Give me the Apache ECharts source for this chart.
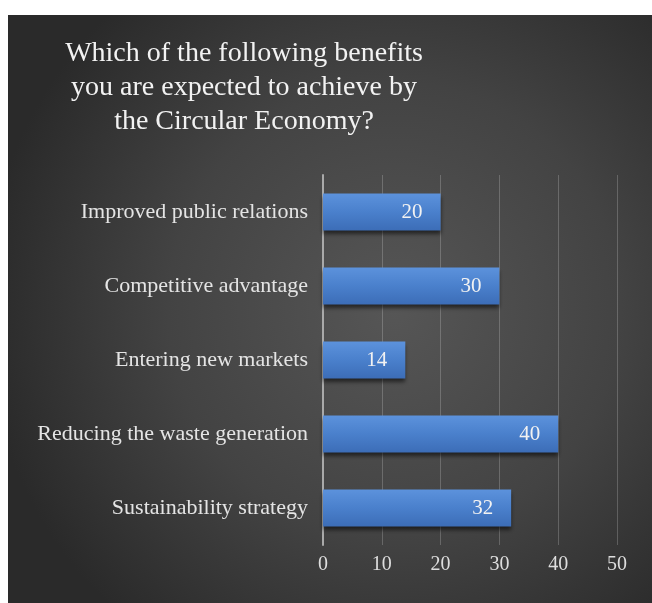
<!DOCTYPE html>
<html>
<head>
<meta charset="utf-8">
<script src="https://cdn.jsdelivr.net/npm/echarts@6/dist/echarts.min.js"></script>
<style>
  html, body { margin: 0; padding: 0; background: #ffffff; }
  #chart { width: 652px; height: 603px; }
</style>
</head>
<body>
<div id="chart"></div>
<script>
// Survey answers: expected benefits of the Circular Economy
const titleLines = [
  'Which of the following benefits',
  'you are expected to achieve by',
  'the Circular Economy?'
];
const categories = [
  'Improved public relations',
  'Competitive advantage',
  'Entering new markets',
  'Reducing the waste generation',
  'Sustainability strategy'
];
const responses = [20, 30, 14, 40, 32];
const xTicks = [0, 10, 20, 30, 40, 50];

const serif = 'Liberation Serif';

const chart = echarts.init(document.getElementById('chart'));

chart.setOption({
  backgroundColor: '#ffffff',
  animation: false,
  graphic: [
    {
      type: 'rect',
      z: -10,
      silent: true,
      shape: { x: 8, y: 15, width: 644, height: 588 },
      style: {
        fill: new echarts.graphic.RadialGradient(0.6, 0.5, 0.7, [
          { offset: 0, color: '#565656' },
          { offset: 0.55, color: '#434343' },
          { offset: 1, color: '#2a2a2a' }
        ])
      }
    },
    {
      type: 'text',
      z: 10,
      silent: true,
      x: 244,
      y: 37,
      style: {
        text: titleLines.join('\n'),
        fill: '#f2f2f2',
        font: 'normal 28px Liberation Serif',
        fontFamily: serif,
        fontSize: 28,
        lineHeight: 34,
        align: 'center',
        verticalAlign: 'top'
      }
    }
  ],
  grid: { left: 323, right: 35, top: 175, bottom: 58, containLabel: false },
  xAxis: {
    type: 'value',
    min: xTicks[0],
    max: xTicks[xTicks.length - 1],
    interval: xTicks[1] - xTicks[0],
    axisLine: { show: false },
    axisTick: { show: false },
    splitLine: { show: true, lineStyle: { color: 'rgba(255,255,255,0.2)', width: 1 } },
    axisLabel: {
      color: '#dedede',
      fontFamily: serif,
      fontSize: 20,
      margin: 10
    }
  },
  yAxis: {
    type: 'category',
    data: categories,
    inverse: true,
    axisLine: { show: true, lineStyle: { color: '#a9a9a9', width: 2 } },
    axisTick: { show: false },
    splitLine: { show: false },
    axisLabel: {
      color: '#e4e4e4',
      fontFamily: serif,
      fontSize: 22,
      margin: 15
    }
  },
  series: [{
    type: 'bar',
    data: responses,
    barWidth: 37,
    itemStyle: {
      color: new echarts.graphic.LinearGradient(0, 0, 0, 1, [
        { offset: 0, color: '#5c92dc' },
        { offset: 0.5, color: '#4a80cc' },
        { offset: 1, color: '#3c6db7' }
      ]),
      shadowColor: 'rgba(0,0,0,0.55)',
      shadowBlur: 4,
      shadowOffsetY: 3
    },
    label: {
      show: true,
      position: 'insideRight',
      distance: 18,
      color: '#f2f2f2',
      fontFamily: serif,
      fontSize: 21
    }
  }]
});
</script>
</body>
</html>
